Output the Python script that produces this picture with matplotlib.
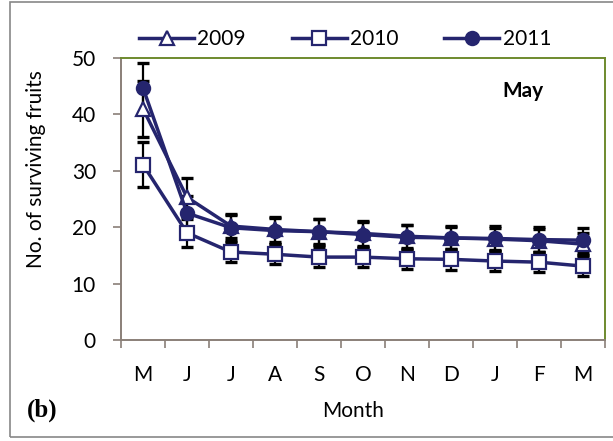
import matplotlib
matplotlib.use("Agg")
import matplotlib.pyplot as plt
from matplotlib.patches import Rectangle

months = ["M", "J", "J", "A", "S", "O", "N", "D", "J", "F", "M"]
y2009 = [41.0, 25.3, 20.2, 19.6, 19.2, 18.9, 18.4, 18.1, 17.9, 17.6, 17.0]
y2010 = [31.1, 19.0, 15.6, 15.2, 14.7, 14.7, 14.4, 14.3, 14.0, 13.8, 13.1]
y2011 = [44.7, 22.5, 19.9, 19.4, 19.2, 18.7, 18.2, 18.1, 18.0, 17.8, 17.7]
e2009 = [5.0, 3.4, 2.2, 2.2, 2.2, 2.2, 2.0, 2.0, 2.0, 2.0, 2.0]
e2010 = [4.0, 2.5, 1.8, 1.8, 1.8, 1.8, 1.8, 1.8, 1.8, 1.8, 1.8]
e2011 = [4.4, 3.0, 2.3, 2.3, 2.3, 2.3, 2.2, 2.2, 2.2, 2.2, 2.2]
labels = ["2009", "2010", "2011"]

plt.rcParams['font.family'] = ['Lato', 'DejaVu Sans']
navy = '#25256e'
W, H = 613, 441

fig = plt.figure(figsize=(6.13, 4.41), dpi=100)
fig.patches.append(Rectangle((10/W, 4/H), 1.2, 435/H, transform=fig.transFigure,
                             fill=False, edgecolor='#888888', lw=1.2))
ax = fig.add_axes([121/W, 101/H, 484/W, 282/H])

x = list(range(len(months)))
series = [(y2009, e2009, '^', 'white'), (y2010, e2010, 's', 'white'), (y2011, e2011, 'o', navy)]
handles = []
for (ys, es, m, fc), lab in zip(series, labels):
    ax.errorbar(x, ys, yerr=es, fmt='none', ecolor='black', elinewidth=1.6,
                capsize=4.5, capthick=2.4, zorder=2)
    h, = ax.plot(x, ys, color=navy, lw=2.5, marker=m, markersize=9.5,
                 markerfacecolor=fc, markeredgecolor=navy, markeredgewidth=1.6,
                 label=lab, zorder=3)
    handles.append(h)

ax.set_xlim(-0.5, len(months) - 0.5)
ax.set_ylim(0, 50)
ax.set_yticks([0, 10, 20, 30, 40, 50])
ax.set_xticks(x)
ax.set_xticklabels(months)
ax.set_xticks([i - 0.5 for i in range(len(months) + 1)], minor=True)
ax.tick_params(axis='x', which='major', length=0, pad=18, labelsize=15)
ax.tick_params(axis='x', which='minor', length=6, width=1.2, color='#8a7f78', direction='out')
ax.tick_params(axis='y', length=6, width=1.2, color='#8a7f78', direction='out', pad=12, labelsize=15)

for s in ['left', 'bottom']:
    ax.spines[s].set_color('#8a7f78')
    ax.spines[s].set_linewidth(1.4)
for s in ['top', 'right']:
    ax.spines[s].set_color('#6e8a2e')
    ax.spines[s].set_linewidth(1.4)

fig.text(36/W, 1 - 169/H, "No. of surviving fruits", fontsize=15, rotation=90,
         ha='center', va='center')
fig.text(353/W, 1 - 411/H, "Month", fontsize=15, ha='center', va='center')
ax.text(0.83, 0.86, "May", transform=ax.transAxes, fontsize=15, fontweight='bold', ha='center')
fig.text(27/W, 1 - 410/H, "(b)", fontsize=18, fontweight='bold', family='Liberation Serif',
         va='center')

fig.legend(handles=handles, labels=labels, loc='center', bbox_to_anchor=(345/W, 1 - 39/H),
           ncol=3, frameon=False, fontsize=15, handlelength=2.65, columnspacing=2.2,
           handletextpad=0.15)

fig.savefig("out.png", dpi=100)
